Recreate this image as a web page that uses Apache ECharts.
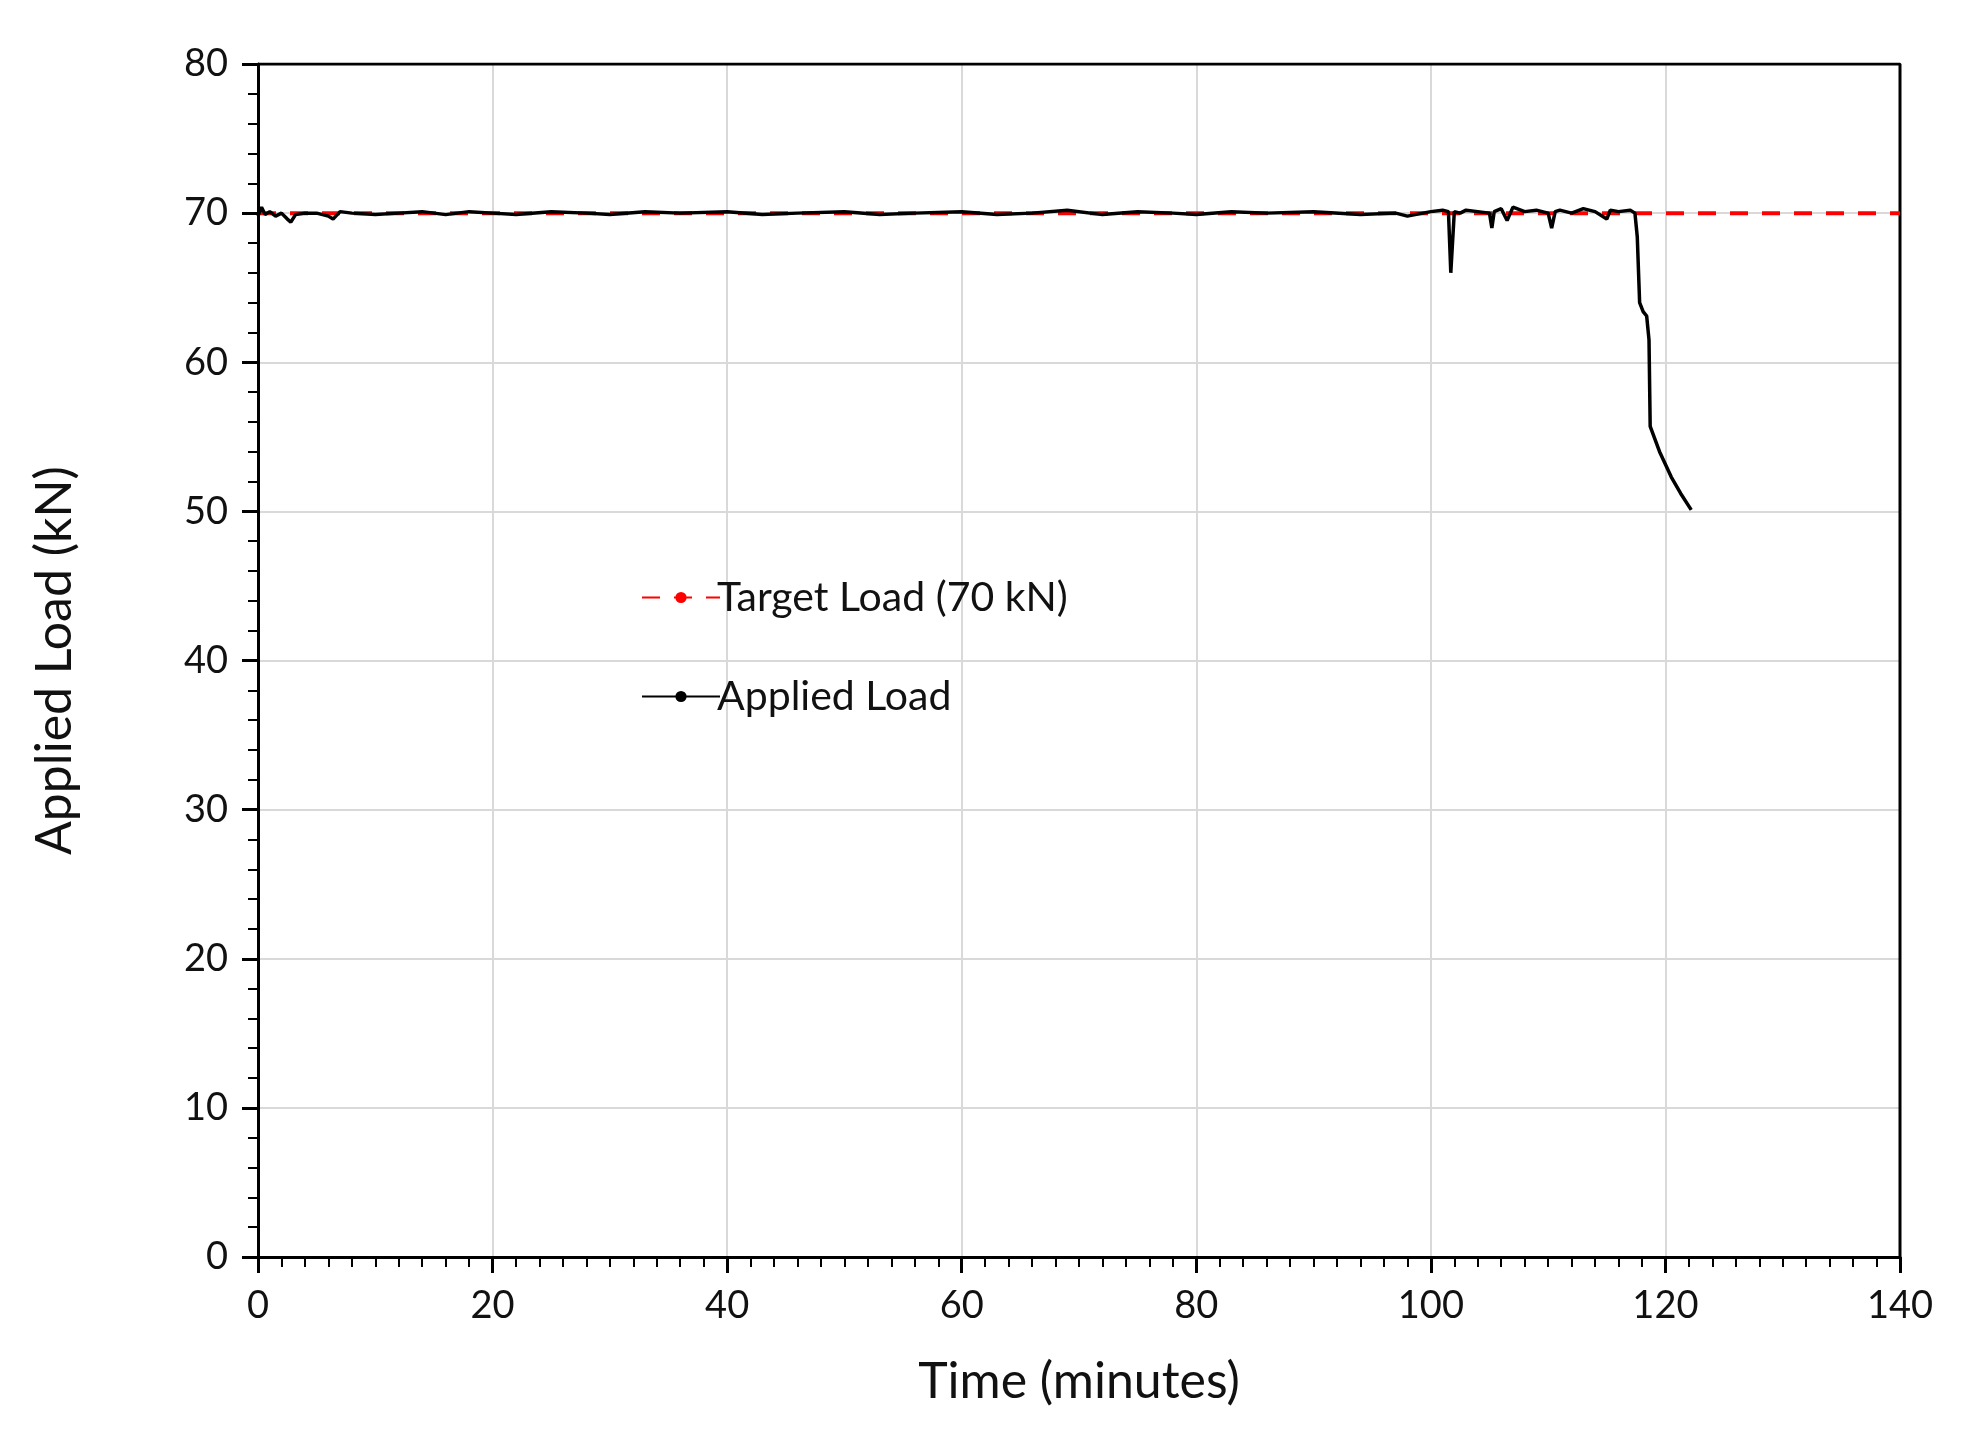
<!DOCTYPE html>
<html>
<head>
<meta charset="utf-8">
<script src="https://cdn.jsdelivr.net/npm/echarts@6/dist/echarts.min.js"></script>
<style>html,body{margin:0;background:#fff}#chart{width:1964px;height:1445px}</style>
</head>
<body>
<div id="chart"></div>
<script>
// time in minutes, applied load in kN
const appliedTime = [0, 0.3, 0.6, 1, 1.5, 2, 2.5, 2.8, 3.2, 4, 5, 6, 6.4, 7, 8, 10, 12, 14, 16, 18, 20, 22, 25, 28, 30, 33, 36, 40, 43, 46, 50, 53, 56, 60, 63, 66, 69, 72, 75, 78, 80, 83, 86, 90, 94, 97, 98, 100, 101, 101.5, 101.7, 102, 102.5, 103, 104, 105, 105.2, 105.4, 106, 106.5, 107, 108, 109, 110, 110.3, 110.6, 111, 112, 113, 114, 115, 115.3, 116, 117, 117.4, 117.6, 117.8, 118.1, 118.4, 118.6, 118.7, 119.5, 120.5, 121.3, 122.2];
const appliedLoad = [69.8, 70.4, 69.9, 70.1, 69.8, 70.0, 69.6, 69.4, 69.9, 70.0, 70.0, 69.8, 69.6, 70.1, 70.0, 69.9, 70.0, 70.1, 69.9, 70.1, 70.0, 69.9, 70.1, 70.0, 69.9, 70.1, 70.0, 70.1, 69.9, 70.0, 70.1, 69.9, 70.0, 70.1, 69.9, 70.0, 70.2, 69.9, 70.1, 70.0, 69.9, 70.1, 70.0, 70.1, 69.9, 70.0, 69.8, 70.1, 70.2, 70.1, 66.0, 70.1, 70.0, 70.2, 70.1, 70.0, 69.0, 70.1, 70.3, 69.5, 70.4, 70.1, 70.2, 70.0, 69.0, 70.1, 70.2, 70.0, 70.3, 70.1, 69.6, 70.2, 70.1, 70.2, 70.0, 68.4, 64.0, 63.4, 63.1, 61.5, 55.7, 54.0, 52.3, 51.2, 50.1];
const targetTime = [0, 140];
const targetLoad = [70, 70];
const xTicks = [0, 20, 40, 60, 80, 100, 120, 140];

const font = 'Lato, "Open Sans", sans-serif';
const chart = echarts.init(document.getElementById('chart'));
chart.setOption({
  animation: false,
  grid: { left: 258, right: 64, top: 64, bottom: 188 },
  legend: {
    orient: 'vertical', left: 636, top: 572, itemGap: 58, itemWidth: 78, itemHeight: 14,
    textStyle: { fontFamily: font, fontSize: 41, color: '#111', padding: [0, 0, 0, -8] },
    data: ['Target Load (70 kN)', 'Applied Load']
  },
  xAxis: {
    type: 'value', min: 0, max: 140, interval: 20,
    name: 'Time (minutes)', nameLocation: 'middle', nameGap: 100,
    nameTextStyle: { fontFamily: font, fontSize: 50, color: '#111' },
    axisLine: { lineStyle: { color: '#000', width: 3 } },
    axisTick: { inside: false, length: 16, lineStyle: { color: '#000', width: 3 } },
    minorTick: { show: true, splitNumber: 10, length: 10, lineStyle: { color: '#000', width: 2 } },
    axisLabel: { fontFamily: font, fontSize: 38, color: '#111', margin: 30,
      formatter: v => xTicks.includes(v) ? String(v) : '' },
    splitLine: { show: true, lineStyle: { color: '#d9d9d9', width: 2 } }
  },
  yAxis: {
    type: 'value', min: 0, max: 80, interval: 10,
    name: 'Applied Load (kN)', nameLocation: 'middle', nameGap: 178,
    nameTextStyle: { fontFamily: font, fontSize: 50, color: '#111' },
    axisLine: { show: true, lineStyle: { color: '#000', width: 3 } },
    axisTick: { show: true, length: 16, lineStyle: { color: '#000', width: 3 } },
    minorTick: { show: true, splitNumber: 5, length: 10, lineStyle: { color: '#000', width: 2 } },
    axisLabel: { fontFamily: font, fontSize: 38, color: '#111', margin: 30 },
    splitLine: { show: true, lineStyle: { color: '#d9d9d9', width: 2 } }
  },
  series: [
    {
      name: 'Target Load (70 kN)', type: 'line', symbol: 'none', z: 2,
      data: targetTime.map((t, i) => [t, targetLoad[i]]),
      lineStyle: { color: '#ff0000', width: 4, type: [18, 14] }, itemStyle: { color: '#ff0000' }
    },
    {
      name: 'Applied Load', type: 'line', symbol: 'none', z: 3,
      data: appliedTime.map((t, i) => [t, appliedLoad[i]]),
      lineStyle: { color: '#000', width: 3.5 }, itemStyle: { color: '#000' }
    },
    {
      type: 'line', symbol: 'none', silent: true, z: 1,
      data: [[140, 0], [140, 80], [0, 80]],
      lineStyle: { color: '#000', width: 3 }
    }
  ]
});
</script>
</body>
</html>
